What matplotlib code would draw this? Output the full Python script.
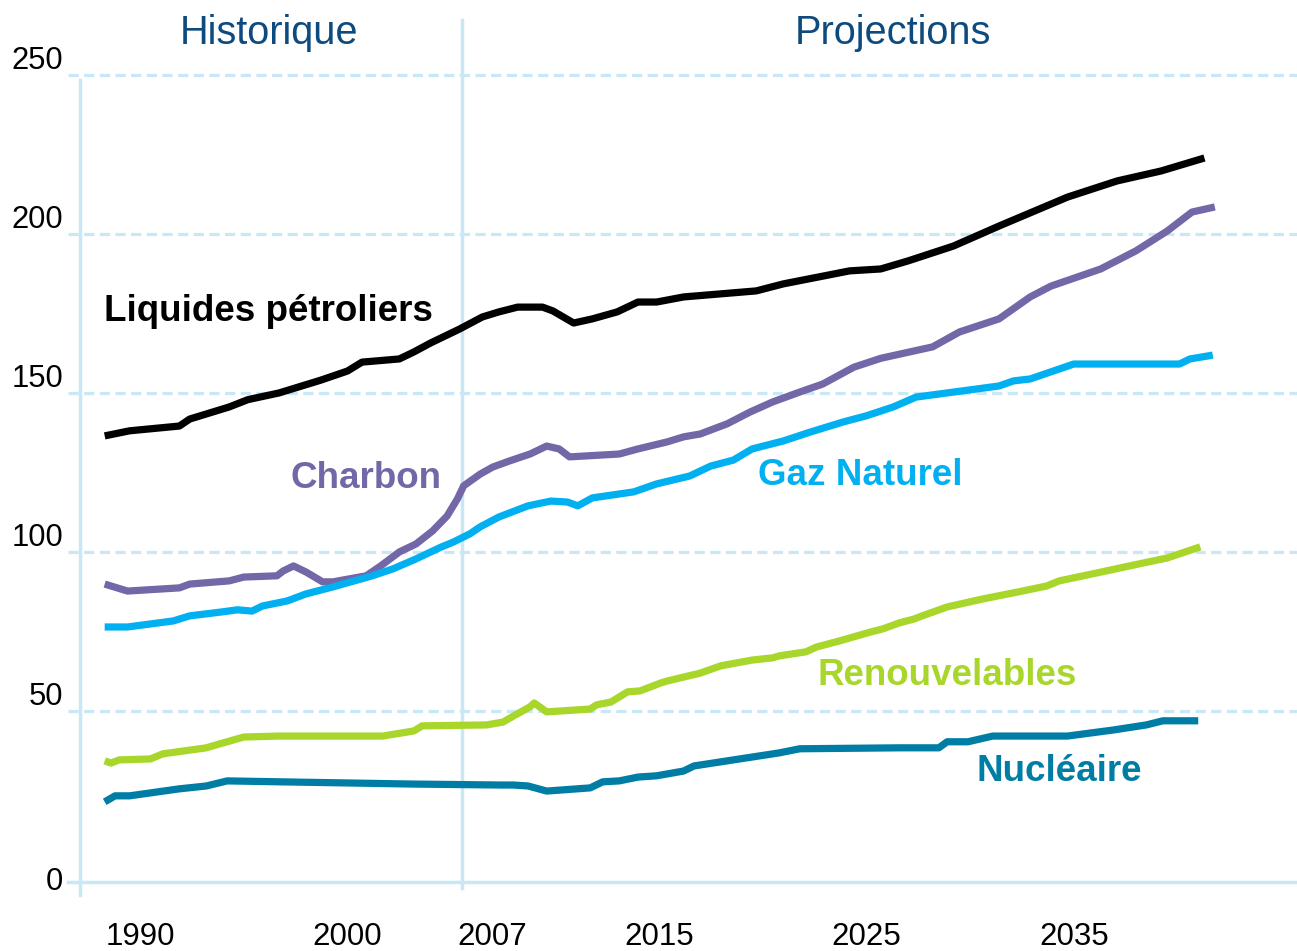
import matplotlib
matplotlib.use('Agg')
import matplotlib.pyplot as plt
from matplotlib.transforms import blended_transform_factory, ScaledTranslation

plt.rcParams['font.family'] = ['Liberation Sans', 'DejaVu Sans']

# ---------------- data ----------------
liquids_x = [1988.3, 1989.5, 1991.9, 1992.4, 1993.5, 1994.3, 1995.2, 1996.7, 1998.7, 2000.0,
             2000.7, 2002.5, 2003.2, 2004.0, 2005.4, 2006.5, 2007.3, 2008.2, 2009.4, 2009.9,
             2010.9, 2011.8, 2013.0, 2014.0, 2014.9, 2016.2, 2019.7, 2021.0, 2024.2, 2025.7,
             2027.0, 2029.2, 2031.4, 2034.7, 2037.1, 2039.2, 2041.3]
liquids_y = [136.5, 138.1, 139.6, 141.8, 144.0, 145.6, 147.9, 150.0, 154.0, 156.9,
             159.7, 160.7, 162.9, 165.7, 170.1, 173.9, 175.5, 177.0, 177.0, 175.8,
             172.0, 173.3, 175.5, 178.6, 178.6, 180.2, 182.1, 184.3, 188.4, 189.0,
             191.5, 196.2, 202.5, 211.6, 216.7, 219.8, 223.9]

coal_x = [1988.3, 1989.4, 1991.9, 1992.4, 1994.3, 1995.0, 1996.6, 1996.9, 1997.4, 1998.0,
          1998.8, 1999.3, 2000.9, 2001.6, 2002.5, 2003.3, 2004.1, 2004.8, 2005.3, 2005.6,
          2006.4, 2007.0, 2007.8, 2008.8, 2009.6, 2010.2, 2010.7, 2013.1, 2014.0, 2015.4,
          2016.2, 2017.0, 2018.3, 2019.4, 2020.5, 2021.8, 2022.9, 2024.4, 2025.7, 2028.2,
          2029.5, 2031.4, 2032.9, 2033.9, 2036.3, 2038.0, 2039.5, 2040.7, 2041.8]
coal_y = [89.9, 87.7, 88.7, 89.9, 90.9, 92.1, 92.5, 94.0, 95.6, 93.7,
          90.6, 90.6, 92.5, 95.6, 100.0, 102.5, 106.6, 111.3, 116.7, 120.8,
          124.5, 126.7, 128.6, 130.8, 133.3, 132.4, 129.9, 130.8, 132.4, 134.6,
          136.2, 137.1, 140.3, 144.0, 147.2, 150.3, 152.8, 158.1, 160.9, 164.5,
          169.2, 173.3, 180.2, 183.6, 189.0, 194.7, 200.9, 206.9, 208.5]

gas_x = [1988.3, 1989.4, 1991.6, 1992.4, 1993.9, 1994.7, 1995.4, 1995.9, 1997.1, 1998.0,
         1999.3, 2000.0, 2001.2, 2002.2, 2003.3, 2004.5, 2005.1, 2005.9, 2006.4, 2007.3,
         2008.7, 2009.8, 2010.6, 2011.1, 2011.8, 2013.8, 2014.9, 2016.5, 2017.5, 2018.6,
         2019.5, 2021.0, 2022.3, 2023.9, 2025.0, 2026.3, 2027.4, 2031.4, 2032.1, 2032.9,
         2035.0, 2040.1, 2040.6, 2041.7]
gas_y = [76.4, 76.4, 78.3, 79.9, 81.1, 81.8, 81.4, 83.0, 84.6, 86.8,
         89.0, 90.3, 92.5, 94.7, 97.8, 101.5, 103.1, 105.7, 107.9, 111.0,
         114.5, 116.0, 115.7, 114.5, 117.0, 118.9, 121.4, 123.9, 127.0, 128.9,
         132.4, 134.9, 137.7, 140.9, 142.8, 145.6, 148.7, 152.2, 153.8, 154.4,
         159.1, 159.1, 160.7, 161.9]

renew_x = [1988.3, 1988.6, 1989.0, 1990.5, 1991.1, 1993.2, 1993.5, 1994.2, 1995.0, 1996.7,
           2001.7, 2003.2, 2003.6, 2006.7, 2007.5, 2008.0, 2008.8, 2009.0, 2009.6, 2011.7,
           2012.0, 2012.7, 2013.5, 2014.1, 2015.1, 2015.4, 2017.0, 2018.0, 2019.5, 2020.5,
           2020.8, 2022.1, 2022.6, 2023.7, 2025.2, 2025.8, 2026.6, 2027.3, 2027.7, 2028.9,
           2030.6, 2032.3, 2033.7, 2034.3, 2035.9, 2037.9, 2039.5, 2041.1]
renew_y = [34.3, 33.6, 34.6, 34.9, 36.5, 38.4, 39.0, 40.3, 41.8, 42.1,
           42.1, 43.7, 45.3, 45.6, 46.5, 48.4, 51.3, 52.5, 49.7, 50.6,
           51.9, 52.8, 56.0, 56.3, 58.8, 59.4, 61.9, 64.2, 66.0, 66.7,
           67.3, 68.6, 70.1, 72.0, 74.8, 75.8, 77.7, 78.9, 79.9, 82.7,
           85.2, 87.4, 89.3, 90.9, 93.1, 95.9, 98.1, 101.6]

nuclear_x = [1988.3, 1988.8, 1989.5, 1991.9, 1993.2, 1994.2, 1996.8, 2003.2, 2007.4, 2008.0,
             2008.7, 2009.6, 2011.7, 2012.3, 2013.1, 2014.0, 2014.9, 2016.2, 2016.7, 2017.6,
             2018.9, 2020.8, 2021.8, 2026.6, 2028.5, 2028.9, 2029.9, 2031.1, 2034.7, 2036.9,
             2038.5, 2039.3, 2041.0]
nuclear_y = [21.4, 23.3, 23.3, 25.5, 26.4, 28.0, 27.7, 27.0, 26.7, 26.7,
             26.4, 24.8, 25.8, 27.7, 28.0, 29.2, 29.6, 31.1, 32.7, 33.6,
             34.9, 36.8, 38.1, 38.4, 38.4, 40.3, 40.3, 42.1, 42.1, 44.0,
             45.6, 46.9, 46.9]

xtick_years = [1990, 2000, 2007, 2015, 2025, 2035]
yticks = [0, 50, 100, 150, 200, 250]
divider_year = 2005.5
section_labels = ["Historique", "Projections"]

series_names = ["Liquides pétroliers", "Charbon", "Gaz Naturel", "Renouvelables", "Nucléaire"]
series_colors = ["#000000", "#7367A7", "#00B0F0", "#A8D62B", "#007DA4"]
# label anchor (year, value)
label_pos = [(1996.2, 175.5), (2000.9, 123.0), (2024.7, 123.9), (2028.9, 61.3), (2034.3, 31.1)]
section_pos = [(1996.2, 263.3), (2026.3, 263.3)]

# ---------------- figure ----------------
W, H = 1297, 951
fig = plt.figure(figsize=(W / 100, H / 100), dpi=100)
ax = fig.add_axes([80 / W, 1 - 882 / H, 1217 / W, 807 / H])

grid_c = "#C8E8F6"
ax.set_xlim(1987.11, 2045.76)
ax.set_ylim(-3.8, 250)

for s in ax.spines.values():
    s.set_visible(False)

# gridlines
for v in yticks[1:]:
    ax.axhline(v, xmin=-12 / 1217, xmax=1, color=grid_c, lw=2.3,
               ls=(0, (3.2, 1.7)), clip_on=False, zorder=1)
# axes lines
ax.axhline(ax.get_ylim()[0], xmin=-12 / 1217, xmax=1, color=grid_c, lw=2.5,
           clip_on=False, zorder=1)
ax.axvline(ax.get_xlim()[0], ymin=-13 / 807, ymax=802 / 807, color=grid_c, lw=2.5,
           clip_on=False, zorder=1)
# divider
ax.axvline(divider_year, ymin=-6 / 807, ymax=1 + 55 / 807, color=grid_c, lw=2.5,
           clip_on=False, zorder=1)

series = [(liquids_x, liquids_y), (coal_x, coal_y), (gas_x, gas_y),
          (renew_x, renew_y), (nuclear_x, nuclear_y)]
for (xs, ys), c in zip(series, series_colors):
    ax.plot(xs, ys, color=c, lw=5.2, solid_joinstyle='round', solid_capstyle='butt', zorder=3)

for name, c, (lx, ly) in zip(series_names, series_colors, label_pos):
    ax.text(lx, ly, name, color=c, fontsize=26.5, fontweight='bold',
            ha='center', va='center', zorder=4)

for name, (lx, ly) in zip(section_labels, section_pos):
    ax.text(lx, ly, name, color="#0D4A7E", fontsize=28.6, ha='center', va='center',
            clip_on=False)

# x ticks
ax.set_xticks(xtick_years)
ax.set_xticklabels([str(y) for y in xtick_years])
ax.tick_params(axis='x', length=0, pad=29, labelsize=22.5, colors='black')

# y tick labels
ax.set_yticks([])
trans = blended_transform_factory(ax.transAxes, ax.transData)
ybot = ax.get_ylim()[0]
for v in yticks:
    if v == 0:
        y, off = ybot, 0
    else:
        y, off = v, 14
    ax.text(-17 / 1217, y, str(v), fontsize=22.3,
            transform=trans + ScaledTranslation(0, off / 100, fig.dpi_scale_trans),
            ha='right', va='center', clip_on=False)

fig.savefig("out.png", dpi=100)
